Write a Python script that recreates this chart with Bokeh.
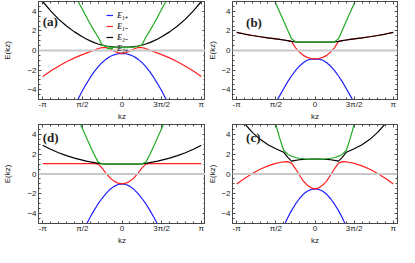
from bokeh.plotting import figure
from bokeh.layouts import column, row
from bokeh.models import (FixedTicker, LinearAxis, Span, Label, Range1d)
from bokeh.embed import file_html
from bokeh.resources import INLINE

# k_z in units of pi
K = [-1, -0.9, -0.8, -0.7, -0.6, -0.5, -0.45, -0.4, -0.35, -0.3, -0.25, -0.2, -0.15, -0.1, -0.05,
     0, 0.05, 0.1, 0.15, 0.2, 0.25, 0.3, 0.35, 0.4, 0.45, 0.5, 0.6, 0.7, 0.8, 0.9, 1]

# panel (a)
a_E1p = [-15.3, -12.5, -9.9, -7.6, -5.7, -4.1, -3.4, -2.75, -2.15, -1.65, -1.22, -0.88, -0.62, -0.44, -0.33,
         -0.3, -0.33, -0.44, -0.62, -0.88, -1.22, -1.65, -2.15, -2.75, -3.4, -4.1, -5.7, -7.6, -9.9, -12.5, -15.3]
a_E1m = [-2.65, -2.1, -1.6, -1.15, -0.75, -0.42, -0.27, -0.12, 0.02, 0.2, 0.3, 0.3, 0.15, -0.05, -0.22,
         -0.3, -0.22, -0.05, 0.15, 0.3, 0.3, 0.2, 0.02, -0.12, -0.27, -0.42, -0.75, -1.15, -1.6, -2.1, -2.65]
a_E2m = [5.0, 4.05, 3.2, 2.5, 1.9, 1.4, 1.18, 0.98, 0.8, 0.66, 0.54, 0.46, 0.4, 0.37, 0.35,
         0.35, 0.35, 0.37, 0.4, 0.46, 0.54, 0.66, 0.8, 0.98, 1.18, 1.4, 1.9, 2.5, 3.2, 4.05, 5.0]
a_E2p = [15.0, 12.2, 9.6, 7.4, 5.7, 4.2, 3.45, 2.7, 2.0, 1.35, 0.55, 0.42, 0.34, 0.31, 0.3,
         0.3, 0.3, 0.31, 0.34, 0.42, 0.55, 1.35, 2.0, 2.7, 3.45, 4.2, 5.7, 7.4, 9.6, 12.2, 15.0]

# panel (b)
b_E1p = [-17.0, -14.0, -11.2, -8.8, -6.8, -5.3, -4.6, -3.9, -3.2, -2.6, -2.05, -1.6, -1.25, -1.0, -0.88,
         -0.85, -0.88, -1.0, -1.25, -1.6, -2.05, -2.6, -3.2, -3.9, -4.6, -5.3, -6.8, -8.8, -11.2, -14.0, -17.0]
b_E1m = [1.85, 1.68, 1.53, 1.4, 1.29, 1.19, 1.14, 1.07, 1.0, 0.93, 0.3, -0.15, -0.5, -0.7, -0.82,
         -0.85, -0.82, -0.7, -0.5, -0.15, 0.3, 0.93, 1.0, 1.07, 1.14, 1.19, 1.29, 1.4, 1.53, 1.68, 1.85]
b_E2m = [1.85, 1.68, 1.53, 1.4, 1.29, 1.19, 1.14, 1.07, 1.0, 0.93, 0.88, 0.86, 0.85, 0.85, 0.85,
         0.85, 0.85, 0.85, 0.85, 0.86, 0.88, 0.93, 1.0, 1.07, 1.14, 1.19, 1.29, 1.4, 1.53, 1.68, 1.85]
b_E2p = [16.0, 13.2, 10.8, 8.6, 6.6, 4.8, 3.9, 3.0, 2.1, 1.2, 0.9, 0.86, 0.85, 0.85, 0.85,
         0.85, 0.85, 0.85, 0.85, 0.86, 0.9, 1.2, 2.1, 3.0, 3.9, 4.8, 6.6, 8.6, 10.8, 13.2, 16.0]

# panel (d)
d_E1p = [-17.7, -14.8, -12.2, -9.8, -7.7, -5.9, -5.1, -4.35, -3.65, -3.0, -2.45, -1.95, -1.55, -1.25, -1.06,
         -1.0, -1.06, -1.25, -1.55, -1.95, -2.45, -3.0, -3.65, -4.35, -5.1, -5.9, -7.7, -9.8, -12.2, -14.8, -17.7]
d_E1m = [1.05, 1.05, 1.05, 1.05, 1.05, 1.05, 1.05, 1.05, 1.05, 1.0, 0.6, 0.05, -0.4, -0.72, -0.93,
         -1.0, -0.93, -0.72, -0.4, 0.05, 0.6, 1.0, 1.05, 1.05, 1.05, 1.05, 1.05, 1.05, 1.05, 1.05, 1.05]
d_E2m = [2.9, 2.5, 2.15, 1.85, 1.6, 1.4, 1.3, 1.22, 1.15, 1.08, 1.03, 1.0, 1.0, 1.0, 1.0,
         1.0, 1.0, 1.0, 1.0, 1.0, 1.03, 1.08, 1.15, 1.22, 1.3, 1.4, 1.6, 1.85, 2.15, 2.5, 2.9]
d_E2p = [15.6, 13.0, 10.6, 8.4, 6.4, 4.6, 3.7, 2.8, 1.95, 1.2, 1.02, 1.0, 1.0, 1.0, 1.0,
         1.0, 1.0, 1.0, 1.0, 1.0, 1.02, 1.2, 1.95, 2.8, 3.7, 4.6, 6.4, 8.4, 10.6, 13.0, 15.6]

# panel (c)
c_E1p = [-20.5, -17.3, -14.3, -11.6, -9.2, -7.1, -6.2, -5.3, -4.45, -3.7, -3.05, -2.5, -2.05, -1.75, -1.56,
         -1.5, -1.56, -1.75, -2.05, -2.5, -3.05, -3.7, -4.45, -5.3, -6.2, -7.1, -9.2, -11.6, -14.3, -17.3, -20.5]
c_E1m = [-1.0, -0.45, 0.05, 0.48, 0.82, 1.07, 1.16, 1.22, 1.25, 1.1, 0.55, -0.1, -0.7, -1.12, -1.4,
         -1.5, -1.4, -1.12, -0.7, -0.1, 0.55, 1.1, 1.25, 1.22, 1.16, 1.07, 0.82, 0.48, 0.05, -0.45, -1.0]
c_E2m = [6.3, 5.1, 4.2, 3.5, 2.95, 2.55, 2.38, 2.2, 1.7, 1.3, 1.38, 1.44, 1.47, 1.49, 1.5,
         1.5, 1.5, 1.49, 1.47, 1.44, 1.38, 1.3, 1.7, 2.2, 2.38, 2.55, 2.95, 3.5, 4.2, 5.1, 6.3]
c_E2p = [18.7, 15.6, 12.7, 10.0, 7.5, 5.0, 3.6, 2.4, 2.0, 1.8, 1.67, 1.59, 1.54, 1.51, 1.5,
         1.5, 1.5, 1.51, 1.54, 1.59, 1.67, 1.8, 2.0, 2.4, 3.6, 5.0, 7.5, 10.0, 12.7, 15.6, 18.7]

x_ticks = [-1, -0.5, 0, 0.5, 1]
x_tick_labels = ["-\u03c0", "\u03c0/2", "0", "3\u03c0/2", "\u03c0"]
y_ticks = [-4, -2, 0, 2, 4]
series_names = ["E\u2081\u208a", "E\u2081\u208b", "E\u2082\u208b", "E\u2082\u208a"]
series_colors = ["#1f1fff", "#ff2020", "#000000", "#22aa22"]

FRAME = "#4a4a4a"
TICKFONT = "Liberation Sans"
x_minor = [round(-1 + 0.1 * i, 2) for i in range(21) if i % 5 != 0]
y_minor = [v / 2 for v in range(-10, 11) if v % 4 != 0]


def make_panel(width, height, bl, bt, bb, br, ylab_standoff, tag, tag_xy, curves, legend=False):
    p = figure(width=width, height=height, output_backend="svg", toolbar_location=None,
               x_range=Range1d(-1.053, 1.053), y_range=Range1d(-5, 5),
               min_border_left=bl, min_border_top=bt, min_border_bottom=bb, min_border_right=br)
    p.xgrid.visible = False
    p.ygrid.visible = False
    p.outline_line_color = FRAME
    p.outline_line_width = 1
    p.background_fill_color = "white"
    p.border_fill_color = "white"

    xt = FixedTicker(ticks=x_ticks, minor_ticks=x_minor)
    yt = FixedTicker(ticks=y_ticks, minor_ticks=y_minor)
    for ax, tk in ((p.xaxis[0], xt), (p.yaxis[0], yt)):
        ax.ticker = tk
        ax.major_tick_in = 3
        ax.major_tick_out = 0
        ax.minor_tick_in = 2
        ax.minor_tick_out = 0
        ax.axis_line_color = FRAME
        ax.major_tick_line_color = FRAME
        ax.minor_tick_line_color = FRAME
        ax.major_label_text_font = TICKFONT
        ax.major_label_text_font_size = "8px"
        ax.major_label_text_color = "#222222"
        ax.axis_label_text_font = TICKFONT
        ax.axis_label_text_font_size = "8px"
        ax.axis_label_text_font_style = "normal"
        ax.axis_label_text_color = "#222222"
        ax.major_label_standoff = 2
    p.xaxis[0].major_label_overrides = {t: s for t, s in zip(x_ticks, x_tick_labels)}
    p.xaxis[0].major_label_standoff = 0
    p.xaxis[0].axis_label = "kz"
    p.xaxis[0].axis_label_standoff = 0
    p.yaxis[0].axis_label = "E(kz)"
    p.yaxis[0].axis_label_standoff = ylab_standoff

    # frame ticks on the top and right edges (no labels there)
    for loc, tk in (("above", xt), ("right", yt)):
        ax = LinearAxis(ticker=tk, major_tick_in=3, major_tick_out=0, minor_tick_in=2,
                        minor_tick_out=0, axis_line_color=FRAME, major_tick_line_color=FRAME,
                        minor_tick_line_color=FRAME, major_label_text_font_size="0px",
                        major_label_standoff=0)
        p.add_layout(ax, loc)

    p.add_layout(Span(location=0, dimension="width", line_color="#c8c8c8", line_width=2))

    for ys, name, col in zip(curves, series_names, series_colors):
        if legend:
            p.line(K, ys, line_color=col, line_width=1.2, legend_label=name)
        else:
            p.line(K, ys, line_color=col, line_width=1.2)

    p.add_layout(Label(x=tag_xy[0], y=tag_xy[1], text=tag, text_font="Liberation Serif",
                       text_font_style="bold", text_font_size="13px", text_baseline="middle",
                       text_color="#222222"))
    if legend:
        lg = p.legend[0]
        lg.location = (68, 46)
        lg.padding = 0
        lg.margin = 0
        lg.spacing = 0
        lg.border_line_alpha = 0
        lg.background_fill_alpha = 0
        lg.glyph_width = 7
        lg.glyph_height = 10
        lg.label_height = 10
        lg.label_standoff = 4
        lg.label_text_font = "Liberation Serif"
        lg.label_text_font_style = "bold italic"
        lg.label_text_font_size = "8px"
    return p


pa = make_panel(205, 123, 34, 1, 19, 0, 12, "(a)", (-1.0, 3.0), [a_E1p, a_E1m, a_E2m, a_E2p], legend=True)
pb = make_panel(194, 123, 21, 1, 19, 2, 1, "(b)", (-0.88, 2.9), [b_E1p, b_E1m, b_E2m, b_E2p])
pd = make_panel(205, 124, 34, 1, 20, 0, 12, "(d)", (-1.0, 3.7), [d_E1p, d_E1m, d_E2m, d_E2p])
pc = make_panel(194, 124, 21, 1, 20, 2, 1, "(c)", (-0.88, 3.7), [c_E1p, c_E1m, c_E2m, c_E2p])

layout = column(row(pa, pb), row(pd, pc))
open("out.html", "w").write(file_html(layout, INLINE))
